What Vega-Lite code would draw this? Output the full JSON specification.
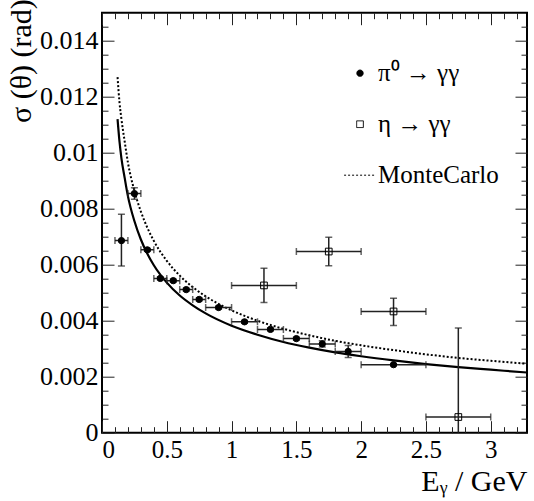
{
  "$schema": "https://vega.github.io/schema/vega-lite/v6.json",
  "width": 425,
  "height": 420,
  "autosize": {"type": "none"},
  "padding": {"left": 102, "top": 12.7, "right": 7, "bottom": 68.3},
  "background": "white",
  "config": {
    "view": {"stroke": "black", "strokeWidth": 2},
    "axis": {
      "grid": false,
      "domain": false,
      "labelFont": "Liberation Serif",
      "labelFontSize": 26,
      "labelColor": "black",
      "titleFont": "Liberation Serif",
      "titleFontSize": 25,
      "titleFontWeight": "normal",
      "titleColor": "black",
      "tickColor": "#222",
      "tickWidth": 1
    },
    "legend": {
      "labelFont": "Liberation Serif",
      "labelFontSize": 25,
      "labelColor": "black",
      "symbolStrokeColor": "black",
      "rowPadding": 25,
      "labelOffset": 5.5,
      "padding": 0
    }
  },
  "datasets": {
    "points": [
      {"series": "π⁰ → γγ", "E": 0.15, "s": 0.00686, "Elo": 0.1, "Ehi": 0.2, "slo": 0.00595, "shi": 0.0078},
      {"series": "π⁰ → γγ", "E": 0.25, "s": 0.00854, "Elo": 0.2, "Ehi": 0.3, "slo": 0.00834, "shi": 0.00875},
      {"series": "π⁰ → γγ", "E": 0.35, "s": 0.00653, "Elo": 0.3, "Ehi": 0.4, "slo": 0.00648, "shi": 0.00658},
      {"series": "π⁰ → γγ", "E": 0.45, "s": 0.00551, "Elo": 0.4, "Ehi": 0.5, "slo": 0.00546, "shi": 0.00556},
      {"series": "π⁰ → γγ", "E": 0.55, "s": 0.00543, "Elo": 0.5, "Ehi": 0.6, "slo": 0.00538, "shi": 0.00548},
      {"series": "π⁰ → γγ", "E": 0.65, "s": 0.00511, "Elo": 0.6, "Ehi": 0.7, "slo": 0.00506, "shi": 0.00516},
      {"series": "π⁰ → γγ", "E": 0.75, "s": 0.00476, "Elo": 0.7, "Ehi": 0.8, "slo": 0.00471, "shi": 0.00481},
      {"series": "π⁰ → γγ", "E": 0.9, "s": 0.00447, "Elo": 0.8, "Ehi": 1.0, "slo": 0.00442, "shi": 0.00452},
      {"series": "π⁰ → γγ", "E": 1.1, "s": 0.00396, "Elo": 1.0, "Ehi": 1.2, "slo": 0.00391, "shi": 0.00401},
      {"series": "π⁰ → γγ", "E": 1.3, "s": 0.00369, "Elo": 1.2, "Ehi": 1.4, "slo": 0.00364, "shi": 0.00374},
      {"series": "π⁰ → γγ", "E": 1.5, "s": 0.00336, "Elo": 1.4, "Ehi": 1.6, "slo": 0.00331, "shi": 0.00341},
      {"series": "π⁰ → γγ", "E": 1.7, "s": 0.00317, "Elo": 1.6, "Ehi": 1.8, "slo": 0.00306, "shi": 0.00328},
      {"series": "π⁰ → γγ", "E": 1.9, "s": 0.0029, "Elo": 1.8, "Ehi": 2.0, "slo": 0.00269, "shi": 0.00311},
      {"series": "π⁰ → γγ", "E": 2.25, "s": 0.00243, "Elo": 2.0, "Ehi": 2.5, "slo": 0.0024, "shi": 0.00246},
      {"series": "η → γγ", "E": 1.25, "s": 0.00526, "Elo": 1.0, "Ehi": 1.5, "slo": 0.00465, "shi": 0.00587},
      {"series": "η → γγ", "E": 1.75, "s": 0.00647, "Elo": 1.5, "Ehi": 2.0, "slo": 0.00596, "shi": 0.00698},
      {"series": "η → γγ", "E": 2.25, "s": 0.00433, "Elo": 2.0, "Ehi": 2.5, "slo": 0.00383, "shi": 0.0048},
      {"series": "η → γγ", "E": 2.75, "s": 0.00056, "Elo": 2.5, "Ehi": 3.0, "slo": -0.0026, "shi": 0.00374}
    ],
    "fit": [
      {"E": 0.12, "s": 0.0112}, {"E": 0.135, "s": 0.0104}, {"E": 0.15, "s": 0.0098}, {"E": 0.175, "s": 0.0091},
      {"E": 0.2, "s": 0.00845}, {"E": 0.25, "s": 0.00756}, {"E": 0.3, "s": 0.0069}, {"E": 0.35, "s": 0.00639},
      {"E": 0.4, "s": 0.00598}, {"E": 0.5, "s": 0.00536}, {"E": 0.6, "s": 0.0049}, {"E": 0.7, "s": 0.00455},
      {"E": 0.8, "s": 0.00426}, {"E": 1.0, "s": 0.00382}, {"E": 1.2, "s": 0.0035}, {"E": 1.4, "s": 0.00324},
      {"E": 1.6, "s": 0.00304}, {"E": 1.8, "s": 0.00287}, {"E": 2.0, "s": 0.00273}, {"E": 2.25, "s": 0.00258},
      {"E": 2.5, "s": 0.00245}, {"E": 2.75, "s": 0.00234}, {"E": 3.0, "s": 0.00225}, {"E": 3.28, "s": 0.00215}
    ],
    "mc": [
      {"series": "MonteCarlo", "E": 0.12, "s": 0.0127}, {"series": "MonteCarlo", "E": 0.135, "s": 0.0118},
      {"series": "MonteCarlo", "E": 0.15, "s": 0.0112}, {"series": "MonteCarlo", "E": 0.175, "s": 0.0104},
      {"series": "MonteCarlo", "E": 0.2, "s": 0.00965}, {"series": "MonteCarlo", "E": 0.25, "s": 0.00864},
      {"series": "MonteCarlo", "E": 0.3, "s": 0.0079}, {"series": "MonteCarlo", "E": 0.35, "s": 0.00732},
      {"series": "MonteCarlo", "E": 0.4, "s": 0.00685}, {"series": "MonteCarlo", "E": 0.5, "s": 0.00614},
      {"series": "MonteCarlo", "E": 0.6, "s": 0.00561}, {"series": "MonteCarlo", "E": 0.7, "s": 0.0052},
      {"series": "MonteCarlo", "E": 0.8, "s": 0.00487}, {"series": "MonteCarlo", "E": 1.0, "s": 0.00437},
      {"series": "MonteCarlo", "E": 1.2, "s": 0.004}, {"series": "MonteCarlo", "E": 1.4, "s": 0.00371},
      {"series": "MonteCarlo", "E": 1.6, "s": 0.00348}, {"series": "MonteCarlo", "E": 1.8, "s": 0.00328},
      {"series": "MonteCarlo", "E": 2.0, "s": 0.00312}, {"series": "MonteCarlo", "E": 2.25, "s": 0.00295},
      {"series": "MonteCarlo", "E": 2.5, "s": 0.0028}, {"series": "MonteCarlo", "E": 2.75, "s": 0.00267},
      {"series": "MonteCarlo", "E": 3.0, "s": 0.00257}, {"series": "MonteCarlo", "E": 3.28, "s": 0.00246}
    ]
  },
  "resolve": {"axis": {"x": "independent", "y": "independent"}},
  "layer": [
    {
      "data": {"name": "fit"},
      "mark": {"type": "line", "color": "black", "strokeWidth": 2.2, "interpolate": "monotone", "clip": true},
      "encoding": {
        "x": {"field": "E", "type": "quantitative", "scale": {"domain": [0, 3.28], "nice": false, "zero": false},
          "axis": {"orient": "bottom", "values": [0, 0.5, 1, 1.5, 2, 2.5, 3], "format": "~g", "ticks": false, "labelPadding": 5,
            "labelFont": "Liberation Serif", "labelFontSize": 25,
            "title": "Eᵧ / GeV", "titleX": 425, "titleY": 58, "titleAlign": "right", "titleBaseline": "alphabetic", "titleAnchor": "end", "titleFontSize": 30}},
        "y": {"field": "s", "type": "quantitative", "scale": {"domain": [0, 0.015], "nice": false, "zero": false},
          "axis": {"orient": "left", "values": [0, 0.002, 0.004, 0.006, 0.008, 0.01, 0.012, 0.014], "format": "~g", "ticks": false, "labelPadding": 4,
            "labelFont": "Liberation Serif", "labelFontSize": 26,
            "title": "σ (θ) (rad)", "titleX": -66, "titleY": -14, "titleAlign": "right", "titleBaseline": "bottom", "titleAngle": 270, "titleAnchor": "end", "titleFontSize": 30}}
      }
    },
    {
      "data": {"name": "mc"},
      "mark": {"type": "line", "color": "black", "strokeWidth": 2, "interpolate": "monotone", "clip": true},
      "encoding": {
        "x": {"field": "E", "type": "quantitative",
          "axis": {"orient": "bottom", "values": [0, 0.5, 1, 1.5, 2, 2.5, 3], "labels": false, "tickSize": 12, "offset": -12, "title": null}},
        "y": {"field": "s", "type": "quantitative",
          "axis": {"orient": "left", "values": [0, 0.002, 0.004, 0.006, 0.008, 0.01, 0.012, 0.014], "labels": false, "tickSize": 12, "offset": -12, "title": null}},
        "strokeDash": {"field": "series", "type": "nominal",
          "scale": {"domain": ["π⁰ → γγ", "η → γγ", "MonteCarlo"], "range": [[1, 0], [1, 0], [2, 2]]},
          "legend": {"title": null, "orient": "none", "legendX": 245.5, "legendY": 48}}
      }
    },
    {
      "data": {"name": "points"},
      "mark": {"type": "errorbar", "ticks": true, "size": 7, "thickness": 1.5, "color": "#222", "clip": true},
      "encoding": {
        "x": {"field": "Elo", "type": "quantitative",
          "axis": {"orient": "bottom", "values": [0.1,0.2,0.3,0.4,0.6,0.7,0.8,0.9,1.1,1.2,1.3,1.4,1.6,1.7,1.8,1.9,2.1,2.2,2.3,2.4,2.6,2.7,2.8,2.9,3.1,3.2], "labels": false, "tickSize": 6, "offset": -6, "title": null}},
        "x2": {"field": "Ehi"},
        "y": {"field": "s", "type": "quantitative",
          "axis": {"orient": "left", "values": [0.0005,0.001,0.0015,0.0025,0.003,0.0035,0.0045,0.005,0.0055,0.0065,0.007,0.0075,0.0085,0.009,0.0095,0.0105,0.011,0.0115,0.0125,0.013,0.0135,0.0145], "labels": false, "tickSize": 6, "offset": -6, "title": null}}
      }
    },
    {
      "data": {"name": "points"},
      "mark": {"type": "errorbar", "ticks": true, "size": 7, "thickness": 1.5, "color": "#222", "clip": true},
      "encoding": {
        "x": {"field": "E", "type": "quantitative",
          "axis": {"orient": "top", "values": [0, 0.5, 1, 1.5, 2, 2.5, 3], "labels": false, "tickSize": 12, "offset": -12, "title": null}},
        "y": {"field": "slo", "type": "quantitative",
          "axis": {"orient": "right", "values": [0, 0.002, 0.004, 0.006, 0.008, 0.01, 0.012, 0.014], "labels": false, "tickSize": 12, "offset": -12, "title": null}},
        "y2": {"field": "shi"}
      }
    },
    {
      "data": {"name": "points"},
      "mark": {"type": "point", "filled": true, "opacity": 1},
      "encoding": {
        "x": {"field": "E", "type": "quantitative",
          "axis": {"orient": "top", "values": [0.1,0.2,0.3,0.4,0.6,0.7,0.8,0.9,1.1,1.2,1.3,1.4,1.6,1.7,1.8,1.9,2.1,2.2,2.3,2.4,2.6,2.7,2.8,2.9,3.1,3.2], "labels": false, "tickSize": 6, "offset": -6, "title": null}},
        "y": {"field": "s", "type": "quantitative",
          "axis": {"orient": "right", "values": [0.0005,0.001,0.0015,0.0025,0.003,0.0035,0.0045,0.005,0.0055,0.0065,0.007,0.0075,0.0085,0.009,0.0095,0.0105,0.011,0.0115,0.0125,0.013,0.0135,0.0145], "labels": false, "tickSize": 6, "offset": -6, "title": null}},
        "shape": {"field": "series", "type": "nominal",
          "scale": {"domain": ["π⁰ → γγ", "η → γγ", "MonteCarlo"], "range": ["circle", "square", "M-4.5,0H4.5"]},
          "legend": {"title": null, "orient": "none", "legendX": 245.5, "legendY": 48}},
        "fill": {"field": "series", "type": "nominal",
          "scale": {"domain": ["π⁰ → γγ", "η → γγ", "MonteCarlo"], "range": ["black", "transparent", "transparent"]},
          "legend": {"title": null, "orient": "none", "legendX": 245.5, "legendY": 48}},
        "stroke": {"field": "series", "type": "nominal",
          "scale": {"domain": ["π⁰ → γγ", "η → γγ", "MonteCarlo"], "range": ["black", "black", "black"]},
          "legend": {"title": null, "orient": "none", "legendX": 245.5, "legendY": 48}},
        "size": {"field": "series", "type": "nominal",
          "scale": {"domain": ["π⁰ → γγ", "η → γγ", "MonteCarlo"], "range": [40, 50, 50]},
          "legend": {"title": null, "orient": "none", "legendX": 245.5, "legendY": 48}},
        "strokeWidth": {"field": "series", "type": "nominal",
          "scale": {"domain": ["π⁰ → γγ", "η → γγ", "MonteCarlo"], "range": [1, 1, 2]},
          "legend": {"title": null, "orient": "none", "legendX": 245.5, "legendY": 48}}
      }
    }
  ]
}
